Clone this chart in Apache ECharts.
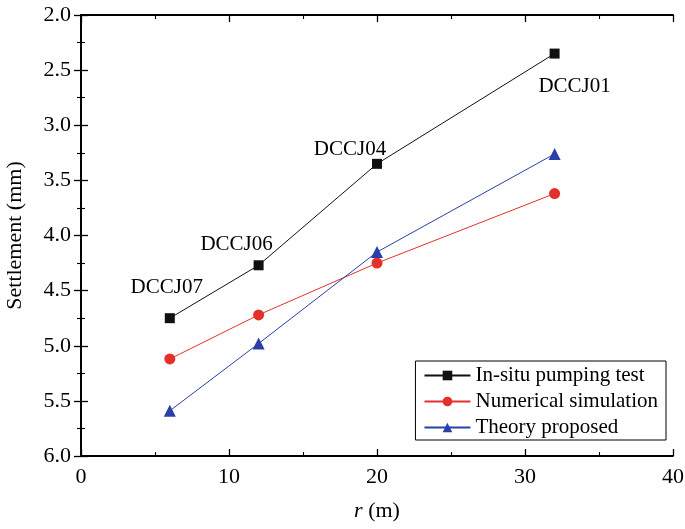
<!DOCTYPE html>
<html><head><meta charset="utf-8">
<script src="https://cdn.jsdelivr.net/npm/echarts@6/dist/echarts.min.js"></script>
<style>html,body{margin:0;padding:0;background:#fff}#c{width:685px;height:529px}</style>
</head><body><div id="c"></div>
<script>
const distances = [6, 12, 20, 32];
const wellNames = ['DCCJ07', 'DCCJ06', 'DCCJ04', 'DCCJ01'];
const insitu = [4.75, 4.27, 3.35, 2.35];
const numerical = [5.12, 4.72, 4.25, 3.62];
const theory = [5.59, 4.98, 4.15, 3.26];
const seriesNames = ['In-situ pumping test', 'Numerical simulation', 'Theory proposed'];

const labelOffsets = [[-3, -31], [-22, -21], [-27, -14], [20, 33]];
const font = 'Liberation Serif, Times New Roman, serif';
const chart = echarts.init(document.getElementById('c'));
const axisCommon = {
  axisLine: {show: true, lineStyle: {color: '#000', width: 1.8}},
  axisTick: {show: true, inside: true, length: 7, lineStyle: {color: '#000', width: 1.3}},
  minorTick: {show: true, splitNumber: 2, length: 4, lineStyle: {color: '#000', width: 1.1}},
  splitLine: {show: false}
};
function pairs(vals, withLabels) {
  return distances.map((x, i) => {
    const d = {value: [x, vals[i]]};
    if (withLabels) {
      d.label = {show: true, position: 'inside', formatter: wellNames[i], offset: labelOffsets[i],
        fontFamily: font, fontSize: 21, color: '#000'};
    }
    return d;
  });
}
chart.setOption({
  animation: false,
  grid: {left: 81, right: 12, top: 15, bottom: 73, containLabel: false, outerBoundsMode: 'none'},
  legend: {
    data: seriesNames,
    orient: 'vertical',
    right: 19, bottom: 89,
    backgroundColor: '#fff',
    borderColor: '#000', borderWidth: 1,
    padding: [4, 8, 2, 8],
    itemWidth: 46, itemHeight: 12, itemGap: 5,
    textStyle: {fontFamily: font, fontSize: 21, color: '#000'}
  },
  xAxis: [
    Object.assign({type: 'value', min: 0, max: 40, interval: 10, position: 'bottom',
      name: '{i|r} (m)', nameLocation: 'middle', nameGap: 44,
      nameTextStyle: {fontFamily: font, fontSize: 22, color: '#000',
        rich: {i: {fontStyle: 'italic', fontFamily: font, fontSize: 22, color: '#000'}}},
      axisLabel: {fontFamily: font, fontSize: 22, color: '#000', margin: 10}}, axisCommon),
    Object.assign({type: 'value', min: 0, max: 40, interval: 10, position: 'top',
      axisLabel: {show: false}}, axisCommon)
  ],
  yAxis: [
    Object.assign({type: 'value', min: 2, max: 6, interval: 0.5, inverse: true, position: 'left',
      name: 'Settlement (mm)', nameLocation: 'middle', nameGap: 55, nameRotate: 90,
      nameTextStyle: {fontFamily: font, fontSize: 22, color: '#000'},
      axisLabel: {fontFamily: font, fontSize: 22, color: '#000', margin: 10,
        formatter: v => v.toFixed(1)}}, axisCommon),
    Object.assign({type: 'value', min: 2, max: 6, interval: 0.5, inverse: true, position: 'right',
      axisLabel: {show: false}}, axisCommon)
  ],
  series: [
    {name: seriesNames[0], type: 'line', data: pairs(insitu, true), symbol: 'rect', symbolSize: 10,
      itemStyle: {color: '#111'}, lineStyle: {color: '#111', width: 1}, z: 3},
    {name: seriesNames[1], type: 'line', data: pairs(numerical, false), symbol: 'circle', symbolSize: 11,
      itemStyle: {color: '#e3302a'}, lineStyle: {color: '#e3302a', width: 1}, z: 2},
    {name: seriesNames[2], type: 'line', data: pairs(theory, false), symbol: 'triangle', symbolSize: 12,
      itemStyle: {color: '#2a3fa8'}, lineStyle: {color: '#2a3fa8', width: 1}, z: 2}
  ]
});
</script></body></html>
